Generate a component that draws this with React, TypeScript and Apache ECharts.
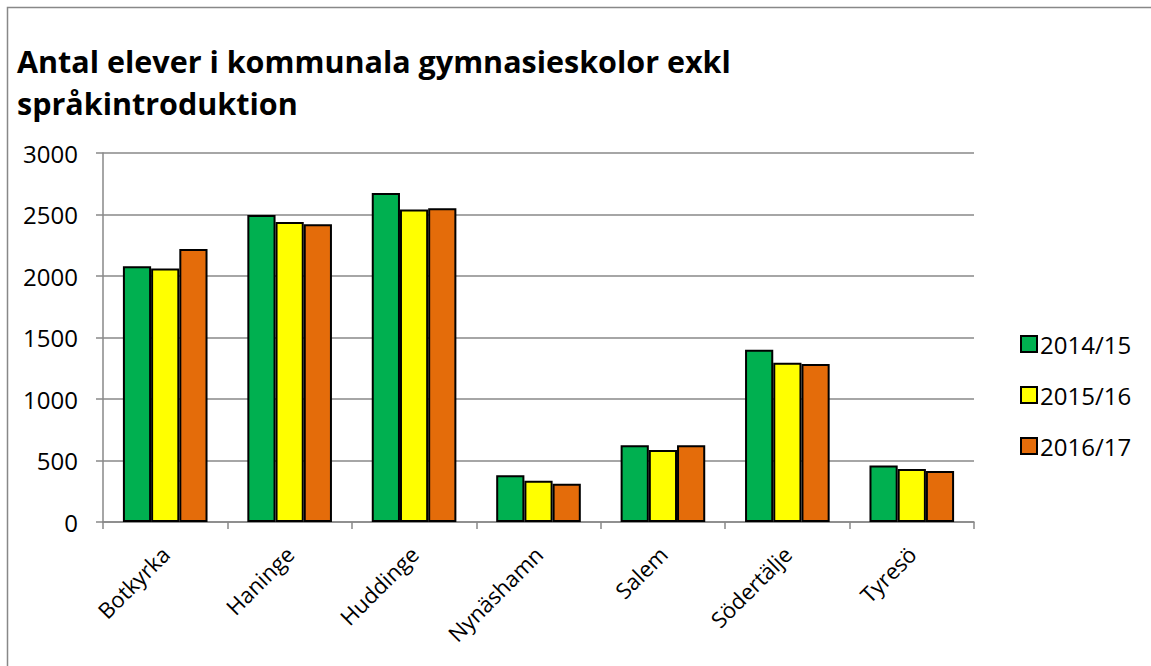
import React, { useEffect, useRef } from "react";
import * as echarts from "echarts";

const categories = ["Botkyrka", "Haninge", "Huddinge", "Nynäshamn", "Salem", "Södertälje", "Tyresö"];
const seriesNames = ["2014/15", "2015/16", "2016/17"];
const values2014 = [2080, 2495, 2675, 380, 625, 1400, 460];
const values2015 = [2060, 2440, 2540, 335, 585, 1295, 430];
const values2016 = [2220, 2420, 2550, 310, 625, 1285, 415];
const colors = ["#00B050", "#FFFF00", "#E46C0A"];
const yTicks = [0, 500, 1000, 1500, 2000, 2500, 3000];

const FONT = "'Open Sans', sans-serif";

export default function App() {
  const ref = useRef<HTMLDivElement>(null);
  useEffect(() => {
    if (!ref.current) return;
    const chart = echarts.init(ref.current, undefined, { renderer: "svg" });
    const data = [values2014, values2015, values2016];
    chart.setOption({
      animation: false,
      backgroundColor: "#ffffff",
      textStyle: { fontFamily: FONT },
      title: {
        text: "Antal elever i kommunala gymnasieskolor exkl\nspråkintroduktion",
        left: 12,
        top: 35,
        textStyle: {
          fontFamily: FONT,
          fontWeight: "bold",
          fontSize: 30.5,
          lineHeight: 42,
          color: "#000",
        },
      },
      graphic: [
        {
          type: "rect",
          shape: { x: 7.5, y: 7.5, width: 1160, height: 680 },
          style: { fill: "none", stroke: "#888", lineWidth: 1.5 },
          silent: true,
        },
      ],
      legend: {
        orient: "vertical",
        left: 1015,
        top: 327,
        itemGap: 27,
        itemWidth: 16,
        itemHeight: 16,
        icon: "rect",
        textStyle: { fontFamily: FONT, fontSize: 24, color: "#000", padding: [0, 0, 0, -2] },
        data: seriesNames,
      },
      grid: { left: 103, right: 177, top: 153, bottom: 144, containLabel: false },
      xAxis: {
        type: "category",
        data: categories,
        axisLine: { lineStyle: { color: "#888", width: 1.5 } },
        axisTick: { show: true, length: 7, alignWithLabel: false, lineStyle: { color: "#888", width: 1.5 } },
        axisLabel: {
          rotate: 45,
          margin: 28,
          fontFamily: FONT,
          fontSize: 22,
          color: "#000",
          interval: 0,
        },
      },
      yAxis: {
        type: "value",
        min: 0,
        max: 3000,
        interval: 500,
        axisLine: { show: true, lineStyle: { color: "#888", width: 1.5 } },
        axisTick: { show: true, length: 7, lineStyle: { color: "#888", width: 1.5 } },
        axisLabel: {
          margin: 25,
          fontFamily: FONT,
          fontSize: 24,
          color: "#000",
          formatter: (v: number) => (yTicks.includes(v) ? String(v) : ""),
        },
        splitLine: { show: true, lineStyle: { color: "#888", width: 1.5 } },
      },
      series: seriesNames.map((name, i) => ({
        name,
        type: "bar",
        data: data[i],
        barGap: "0%",
        barCategoryGap: "32%",
        itemStyle: { color: colors[i], borderColor: "#000", borderWidth: 2 },
      })),
    });
    return () => chart.dispose();
  }, []);
  return (
    <div
      ref={ref}
      style={{ position: "absolute", left: 0, top: 0, width: 1151, height: 666 }}
    />
  );
}
